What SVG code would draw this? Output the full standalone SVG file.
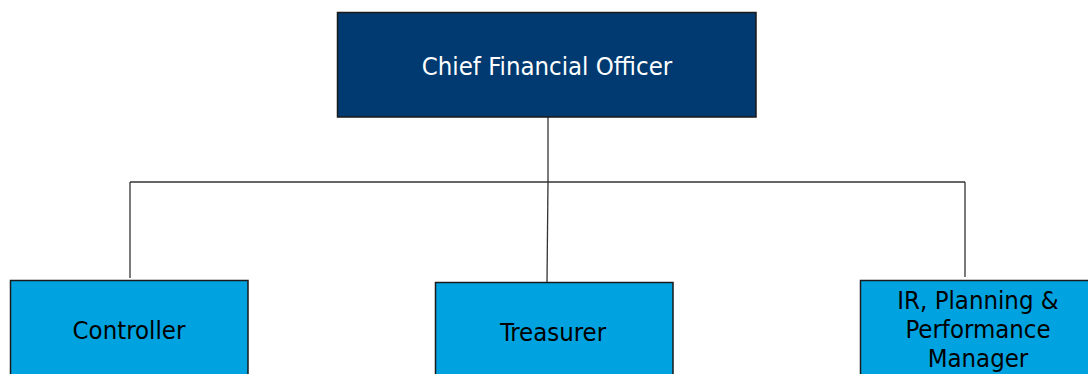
<svg xmlns="http://www.w3.org/2000/svg" width="1088" height="374" viewBox="0 0 1088 374">
<style>
.box{stroke:#1a1a1a;stroke-width:1.5}
.top{fill:#003A70}
.sub{fill:#00A3E0}
.t{font-family:"DejaVu Sans Condensed","DejaVu Sans",sans-serif;font-stretch:condensed;font-size:25.5px;text-anchor:middle}
.w{fill:#ffffff}
.k{fill:#000000}
.c{stroke:#333333;stroke-width:1.3;fill:none}
</style>
<rect width="1088" height="374" fill="#ffffff"/>
<g id="connectors">
<line class="c" x1="548" y1="117" x2="548" y2="182"/>
<line class="c" x1="130" y1="182" x2="965" y2="182"/>
<line class="c" x1="130" y1="182" x2="130" y2="278"/>
<line class="c" x1="965" y1="182" x2="965" y2="277"/>
<line class="c" x1="548" y1="182" x2="547" y2="282"/>
</g>
<g id="cfo">
<rect class="box top" x="337.5" y="12.5" width="418.5" height="104.5"/>
<text class="t w" x="547" y="75">Chief Financial Officer</text>
</g>
<g id="controller">
<rect class="box sub" x="10.5" y="280.5" width="237.5" height="100"/>
<text class="t k" x="129" y="339">Controller</text>
</g>
<g id="treasurer">
<rect class="box sub" x="435.5" y="282.5" width="237.5" height="100"/>
<text class="t k" x="553" y="341">Treasurer</text>
</g>
<g id="ir">
<rect class="box sub" x="860.5" y="280.5" width="240" height="100"/>
<text class="t k" x="978" y="309">IR, Planning &amp;</text>
<text class="t k" x="978" y="338">Performance</text>
<text class="t k" x="978" y="367">Manager</text>
</g>
</svg>
